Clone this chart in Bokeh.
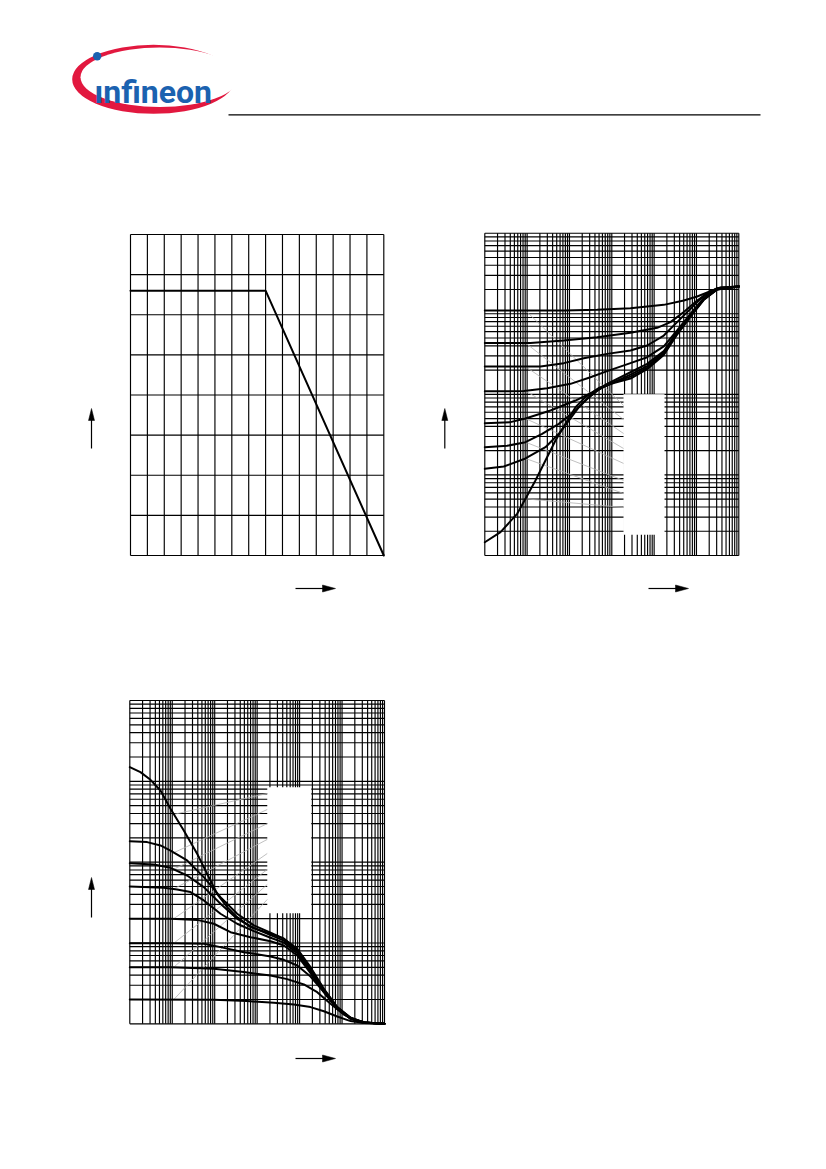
import math
from bokeh.plotting import figure
from bokeh.models import Range1d, LogScale, LinearScale
from bokeh.embed import file_html
from bokeh.resources import INLINE
from bokeh.core.properties import value

# ---------------- data ----------------
# Chart 1: total power dissipation vs. temperature
c1_temp = [0, 80, 150]
c1_power = [330, 330, 0]
c1_x_ticks = list(range(0, 151, 10))
c1_y_ticks = list(range(0, 401, 50))

# Chart 2: pulse thermal resistance vs. pulse duration (per duty cycle D)
c2_tp_d050 = [1e-6, 7.35e-5, 4.5e-4, 2.76e-3, 1.69e-2, 5.02e-2, 0.104, 0.214, 0.369, 1.0]
c2_r_d050 = [110, 110, 112, 117, 129, 146, 164, 191, 210, 218]
c2_tp_d020 = [1e-6, 1.2e-5, 7.35e-5, 4.5e-4, 2.76e-3, 1.18e-2, 2.43e-2, 5.02e-2, 0.104, 0.214, 0.369, 1.0]
c2_r_d020 = [43.5, 43.5, 46.5, 51.2, 58.0, 66.9, 78.7, 105, 146, 191, 212, 218]
c2_tp_d010 = [1e-6, 2.07e-5, 7.35e-5, 2.18e-4, 7.76e-4, 2.76e-3, 6.84e-3, 1.69e-2, 3.49e-2, 7.21e-2, 0.149, 0.308, 1.0]
c2_r_d010 = [22.1, 22.1, 24.4, 28.1, 31.8, 35.0, 40.4, 53.7, 78.7, 115, 168, 208, 218]
c2_tp_d005 = [1e-6, 8.34e-6, 2.97e-5, 1.06e-4, 3.13e-4, 7.76e-4, 2.76e-3, 6.84e-3, 1.69e-2, 3.49e-2, 7.21e-2, 0.149, 0.308, 1.0]
c2_r_d005 = [10.9, 11.0, 11.9, 13.5, 16.3, 19.4, 24.4, 28.9, 39.3, 62.0, 99.8, 158, 204, 218]
c2_tp_d002 = [1e-6, 4.04e-6, 9.14e-6, 3.56e-5, 1.39e-4, 3.43e-4, 7.76e-4, 2.76e-3, 6.84e-3, 1.69e-2, 3.49e-2, 7.21e-2, 0.149, 0.308, 1.0]
c2_r_d002 = [4.39, 4.52, 5.01, 6.30, 8.38, 10.6, 13.5, 18.8, 23.9, 34.4, 59.1, 96.0, 153, 202, 218]
c2_tp_d001 = [1e-6, 3.37e-6, 9.14e-6, 2.26e-5, 5.60e-5, 1.39e-4, 2.39e-4, 4.50e-4, 9.31e-4, 2.76e-3, 6.84e-3, 1.69e-2, 3.49e-2, 7.21e-2, 0.149, 0.308, 1.0]
c2_r_d001 = [2.21, 2.30, 2.55, 3.24, 4.30, 6.30, 8.38, 11.2, 13.5, 17.6, 22.4, 32.7, 57.4, 94.2, 152, 202, 218]
c2_tp_d0005 = [1e-6, 2.81e-6, 9.14e-6, 2.71e-5, 5.60e-5, 9.64e-5, 1.66e-4, 2.86e-4, 5.91e-4, 1.34e-3, 2.76e-3, 6.84e-3, 1.69e-2, 3.49e-2, 7.21e-2, 0.149, 0.308, 1.0]
c2_r_d0005 = [1.19, 1.27, 1.60, 2.21, 3.24, 4.73, 6.93, 9.23, 12.3, 14.6, 16.6, 21.3, 31.8, 56.3, 93.3, 150, 200, 218]
c2_tp_d0 = [1e-6, 2.35e-6, 5.80e-6, 9.14e-6, 1.57e-5, 2.71e-5, 4.67e-5, 8.05e-5, 1.39e-4, 2.39e-4, 4.93e-4, 1.11e-3, 2.76e-3, 6.84e-3, 1.69e-2, 3.49e-2, 7.21e-2, 0.149, 0.308, 1.0]
c2_r_d0 = [0.146, 0.195, 0.329, 0.505, 0.853, 1.51, 2.67, 4.30, 6.93, 9.23, 12.0, 13.8, 15.7, 20.5, 30.9, 55.2, 92.4, 149, 200, 218]
# label leader lines (start on curve, end at label box)
c2_lead_x0 = [9.14e-6] * 8
c2_lead_y0 = [110, 43.5, 22.1, 11.0, 5.01, 2.55, 1.60, 0.505]
c2_lead_x1 = [1.89e-3] * 8
c2_lead_y1 = [7.28, 4.88, 3.27, 2.13, 1.39, 0.855, 0.589, 0.395]
c2_box = dict(left=1.89e-3, right=1.76e-2, bottom=0.181, top=10)

# Chart 3: permissible pulse load ratio vs. pulse duration (per duty cycle D)
c3_tp_d0 = [1e-6, 1.78e-6, 3.07e-6, 5.28e-6, 9.09e-6, 1.87e-5, 3.86e-5, 6.64e-5, 1.14e-4, 1.97e-4, 3.38e-4, 6.98e-4, 2.07e-3, 4.26e-3, 8.78e-3, 1.81e-2, 3.73e-2, 7.69e-2, 0.159, 0.327, 1.0]
c3_p_d0 = [1497, 1299, 1044, 770, 457, 247, 127, 71.7, 40.6, 27.8, 20.9, 15.7, 13.0, 11.3, 8.47, 5.02, 2.71, 1.61, 1.19, 1.04, 1.0]
c3_tp_d0005 = [1e-6, 2.56e-6, 5.28e-6, 9.09e-6, 2.24e-5, 5.54e-5, 1.37e-4, 3.38e-4, 8.36e-4, 2.07e-3, 4.26e-3, 8.78e-3, 1.81e-2, 3.73e-2, 7.69e-2, 0.159, 0.327, 1.0]
c3_p_d0005 = [182, 177, 161, 139, 105, 65.2, 36.9, 23.0, 16.5, 13.4, 11.3, 8.31, 4.88, 2.66, 1.61, 1.19, 1.04, 1.0]
c3_tp_d001 = [1e-6, 3.68e-6, 9.09e-6, 2.24e-5, 5.54e-5, 1.37e-4, 3.38e-4, 8.36e-4, 2.07e-3, 4.26e-3, 8.78e-3, 1.81e-2, 3.73e-2, 7.69e-2, 0.159, 0.327, 1.0]
c3_p_d001 = [97.2, 93.6, 85.1, 68.4, 49.1, 30.5, 19.9, 15.4, 12.5, 10.7, 7.93, 4.66, 2.58, 1.58, 1.18, 1.04, 1.0]
c3_tp_d002 = [1e-6, 6.33e-6, 1.30e-5, 2.69e-5, 5.54e-5, 1.37e-4, 3.38e-4, 8.36e-4, 2.07e-3, 4.26e-3, 8.78e-3, 1.81e-2, 3.73e-2, 7.69e-2, 0.159, 0.327, 1.0]
c3_p_d002 = [50.0, 48.1, 45.9, 42.6, 33.6, 23.0, 17.3, 14.0, 11.6, 10.1, 7.48, 4.44, 2.51, 1.56, 1.16, 1.04, 1.0]
c3_tp_d005 = [1e-6, 9.09e-6, 3.86e-5, 9.54e-5, 2.36e-4, 6.98e-4, 2.07e-3, 4.26e-3, 8.78e-3, 1.81e-2, 3.73e-2, 7.69e-2, 0.159, 0.327, 1.0]
c3_p_d005 = [19.9, 19.9, 19.3, 17.3, 13.6, 11.8, 10.5, 9.31, 7.00, 4.24, 2.46, 1.55, 1.16, 1.04, 1.0]
c3_tp_d010 = [1e-6, 9.09e-6, 5.54e-5, 1.37e-4, 4.86e-4, 2.07e-3, 4.26e-3, 8.78e-3, 1.81e-2, 3.73e-2, 7.69e-2, 0.159, 0.327, 1.0]
c3_p_d010 = [9.95, 9.95, 9.77, 8.88, 7.70, 6.81, 6.19, 5.27, 3.85, 2.46, 1.53, 1.15, 1.03, 1.0]
c3_tp_d020 = [1e-6, 9.09e-6, 9.54e-5, 4.86e-4, 2.07e-3, 5.10e-3, 1.26e-2, 2.60e-2, 5.36e-2, 0.110, 0.228, 0.469, 1.0]
c3_p_d020 = [5.02, 5.02, 4.79, 4.36, 3.96, 3.57, 3.07, 2.46, 1.77, 1.30, 1.08, 1.02, 1.0]
c3_tp_d050 = [1e-6, 9.54e-5, 5.82e-4, 2.48e-3, 7.33e-3, 1.81e-2, 3.73e-2, 7.69e-2, 0.159, 0.327, 1.0]
c3_p_d050 = [2.0, 1.98, 1.91, 1.82, 1.73, 1.61, 1.43, 1.23, 1.08, 1.02, 1.0]
c3_lead_x0 = [1.09e-5] * 8
c3_lead_y0 = [390, 131, 81.9, 46.8, 20.0, 9.95, 5.02, 2.0]
c3_lead_x1 = [1.73e-3] * 8
c3_lead_y1 = [707, 448, 300, 191, 128, 81.2, 52.9, 34.5]
c3_box = dict(left=1.73e-3, right=1.88e-2, bottom=23.4, top=846)

log_decades_x = list(range(-6, 0))
c2_y_decades = list(range(-1, 3))
c3_y_decades = list(range(0, 4))

# ---------------- page geometry ----------------
W, H, OFF = 818, 1160, 0
PX0, PX1 = OFF, OFF + W          # page pixel span of frame (x)
PY_BOT, PY_TOP = OFF + H, OFF    # page pixel span of frame (y)


def lin_range(v0, v1, p0, p1, lo, hi):
    k = (v1 - v0) / (p1 - p0)
    return Range1d(start=v0 + (lo - p0) * k, end=v0 + (hi - p0) * k)


def log_range(v0, v1, p0, p1, lo, hi):
    a, b = math.log10(v0), math.log10(v1)
    k = (b - a) / (p1 - p0)
    return Range1d(start=10 ** (a + (lo - p0) * k), end=10 ** (a + (hi - p0) * k))


p = figure(width=W, height=H, x_range=Range1d(PX0, PX1), y_range=Range1d(PY_BOT, PY_TOP),
           output_backend="svg", toolbar_location=None, min_border=0,
           x_axis_location=None, y_axis_location=None, outline_line_color=None,
           background_fill_color="white", border_fill_color="white")
p.grid.visible = False

p.extra_x_ranges = {
    "c1x": lin_range(0, 150, 130.0, 383.3, PX0, PX1),
    "c2x": log_range(1e-6, 1.0, 484.3, 738.3, PX0, PX1),
    "c3x": log_range(1e-6, 1.0, 129.3, 384.0, PX0, PX1),
}
p.extra_y_ranges = {
    "c1y": lin_range(0, 400, 555.0, 234.0, PY_BOT, PY_TOP),
    "c2y": log_range(0.1, 1000.0, 555.0, 232.7, PY_BOT, PY_TOP),
    "c3y": log_range(1.0, 1e4, 1023.3, 700.0, PY_BOT, PY_TOP),
}
p.extra_x_scales = {"c1x": LinearScale(), "c2x": LogScale(), "c3x": LogScale()}
p.extra_y_scales = {"c1y": LinearScale(), "c2y": LogScale(), "c3y": LogScale()}

GRID = dict(line_color="black", line_width=1.15)
CURVE = dict(line_color="black", line_width=2, line_join="round", line_cap="round")
LEAD = dict(line_color="#b0b0b0", line_width=0.8)


def log_ticks(decades):
    t = [m * 10.0 ** e for e in decades for m in range(1, 10)]
    t.append(10.0 ** (decades[-1] + 1))
    return t


def draw_grid(xt, yt, xn, yn):
    n, m = len(xt), len(yt)
    p.segment(x0=xt, y0=[yt[0]] * n, x1=xt, y1=[yt[-1]] * n, x_range_name=xn, y_range_name=yn, **GRID)
    p.segment(x0=[xt[0]] * m, y0=yt, x1=[xt[-1]] * m, y1=yt, x_range_name=xn, y_range_name=yn, **GRID)


# ---- chart 1 ----
draw_grid(c1_x_ticks, c1_y_ticks, "c1x", "c1y")
p.line(c1_temp, c1_power, x_range_name="c1x", y_range_name="c1y", **CURVE)

# ---- chart 2 ----
draw_grid(log_ticks(log_decades_x), log_ticks(c2_y_decades), "c2x", "c2y")
p.quad(fill_color="white", line_color=None, x_range_name="c2x", y_range_name="c2y", **{k: [v] for k, v in c2_box.items()})
p.segment(x0=c2_lead_x0, y0=c2_lead_y0, x1=c2_lead_x1, y1=c2_lead_y1, x_range_name="c2x", y_range_name="c2y", **LEAD)
for xs, ys in [(c2_tp_d050, c2_r_d050), (c2_tp_d020, c2_r_d020), (c2_tp_d010, c2_r_d010),
               (c2_tp_d005, c2_r_d005), (c2_tp_d002, c2_r_d002), (c2_tp_d001, c2_r_d001),
               (c2_tp_d0005, c2_r_d0005), (c2_tp_d0, c2_r_d0)]:
    p.line(xs, ys, x_range_name="c2x", y_range_name="c2y", **CURVE)

# ---- chart 3 ----
draw_grid(log_ticks(log_decades_x), log_ticks(c3_y_decades), "c3x", "c3y")
p.quad(fill_color="white", line_color=None, x_range_name="c3x", y_range_name="c3y", **{k: [v] for k, v in c3_box.items()})
p.segment(x0=c3_lead_x0, y0=c3_lead_y0, x1=c3_lead_x1, y1=c3_lead_y1, x_range_name="c3x", y_range_name="c3y", **LEAD)
for xs, ys in [(c3_tp_d0, c3_p_d0), (c3_tp_d0005, c3_p_d0005), (c3_tp_d001, c3_p_d001),
               (c3_tp_d002, c3_p_d002), (c3_tp_d005, c3_p_d005), (c3_tp_d010, c3_p_d010),
               (c3_tp_d020, c3_p_d020), (c3_tp_d050, c3_p_d050)]:
    p.line(xs, ys, x_range_name="c3x", y_range_name="c3y", **CURVE)


# ---- axis arrows (page pixel coordinates) ----
def up_arrow(x, y_bottom, y_tip):
    p.segment(x0=[x], y0=[y_bottom], x1=[x], y1=[y_tip + 11], line_color="black", line_width=1.2)
    p.patch([x - 3, x + 3, x], [y_tip + 12, y_tip + 12, y_tip], fill_color="black", line_color="black", line_width=0.5)


def right_arrow(x_start, x_tip, y):
    p.segment(x0=[x_start], y0=[y], x1=[x_tip - 12], y1=[y], line_color="black", line_width=1.2)
    p.patch([x_tip - 13, x_tip - 13, x_tip], [y - 3.5, y + 3.5, y], fill_color="black", line_color="black", line_width=0.5)


up_arrow(91, 448, 408)
right_arrow(295, 335, 588)
up_arrow(444.3, 448, 408)
right_arrow(648, 688, 588)
up_arrow(91, 917, 877)
right_arrow(295, 335, 1058)

# ---- header: logo and rule ----
RED = "#e2183f"
BLUE = "#1b62b0"
p.ellipse(x=[153], y=[78.8], width=[162.6], height=[69], fill_color=RED, line_color=None)
p.ellipse(x=[159.2], y=[76.75], width=[158.4], height=[59.5], fill_color="white", line_color=None)
p.text(x=[94], y=[91], text=["ınfineon"], text_font=value("Roboto"),
       text_font_style="bold", text_font_size="32px", text_color=BLUE, text_baseline="alphabetic")
p.circle(x=[96.7], y=[55.7], radius=4.2, fill_color=BLUE, line_color=None)
p.segment(x0=[228], y0=[114.3], x1=[760], y1=[114.3], line_color="black", line_width=1.2)

open("out.html", "w").write(file_html(p, INLINE))
